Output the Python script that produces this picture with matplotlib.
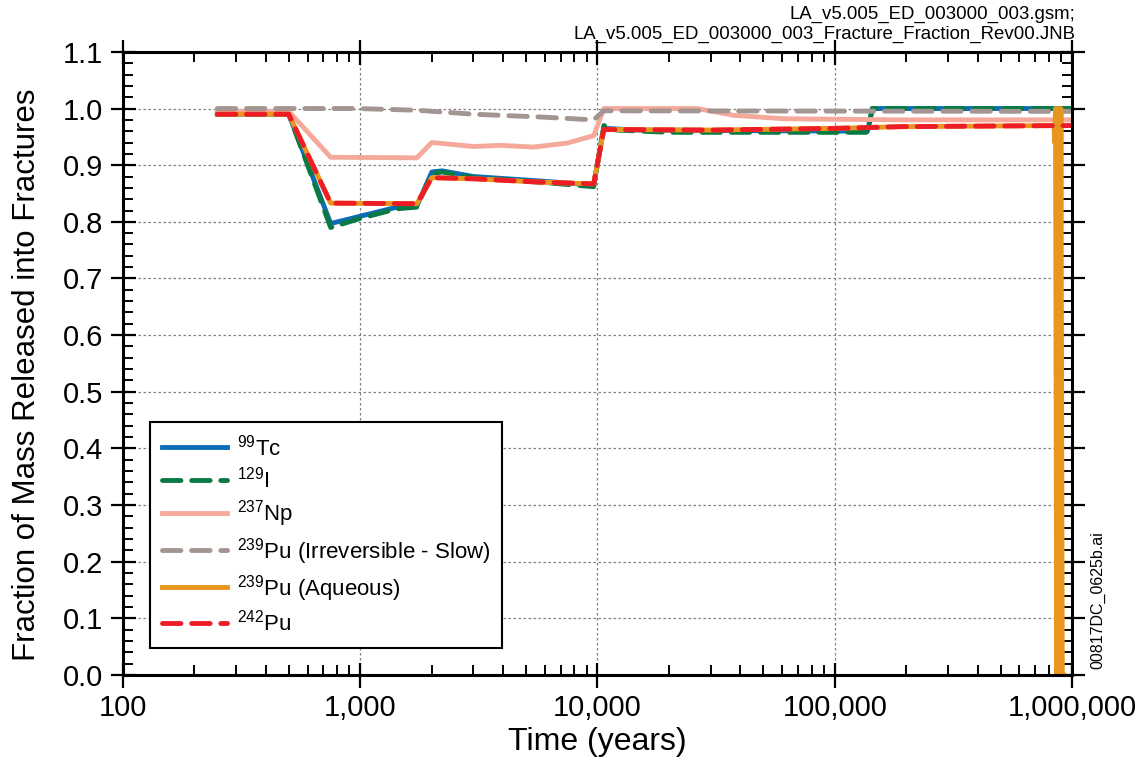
import numpy as np
import matplotlib
matplotlib.use('Agg')
import matplotlib.pyplot as plt
from matplotlib.ticker import FuncFormatter, LogLocator, MultipleLocator

plt.rcParams['font.family'] = ['Liberation Sans', 'DejaVu Sans']
plt.rcParams['mathtext.default'] = 'regular'

# values (time in years, fraction)
t_tc = [250, 500, 751, 1430, 1733, 2004, 2213, 3000, 5760, 9640, 10640, 15000, 137500, 144000, 1000000]
f_tc = [0.99, 0.99, 0.797, 0.826, 0.828, 0.888, 0.890, 0.880, 0.872, 0.865, 0.965, 0.962, 0.960, 1.0, 1.0]

t_i = [250, 500, 751, 1000, 1430, 1733, 2004, 2213, 3000, 5760, 9640, 10640, 12000, 20000, 137500, 144000, 1000000]
f_i = [0.99, 0.99, 0.790, 0.806, 0.823, 0.826, 0.885, 0.888, 0.878, 0.870, 0.862, 0.970, 0.962, 0.958, 0.958, 1.0, 1.0]

t_np = [250, 500, 751, 1733, 2004, 3000, 3900, 5370, 7450, 9640, 10640, 26300, 37500, 61000, 190000, 1000000]
f_np = [0.995, 0.995, 0.914, 0.913, 0.940, 0.933, 0.935, 0.932, 0.939, 0.952, 1.0, 1.0, 0.988, 0.982, 0.980, 0.980]

t_pu239s = [250, 968, 1733, 3000, 3900, 5760, 9640, 10640, 1000000]
f_pu239s = [1.0, 1.0, 0.997, 0.990, 0.988, 0.985, 0.980, 0.996, 0.995]

t_pu239a = [250, 500, 751, 1733, 2004, 3000, 5760, 9640, 10640, 30000, 100000, 190000, 840000,
            845000, 852000, 862000, 874000, 886000, 898000, 910000, 922000]
f_pu239a = [0.99, 0.99, 0.833, 0.832, 0.878, 0.876, 0.870, 0.867, 0.963, 0.962, 0.965, 0.968, 0.970,
            0.94, 1.0, 0.0, 1.0, 0.0, 1.0, 0.0, 0.0]

t_pu242 = [250, 500, 751, 1733, 2004, 3000, 5760, 9640, 10640, 30000, 100000, 190000, 1000000]
f_pu242 = [0.99, 0.99, 0.833, 0.832, 0.878, 0.876, 0.870, 0.867, 0.963, 0.962, 0.965, 0.968, 0.970]

fig = plt.figure(figsize=(11.38, 7.63), dpi=100)
ax = fig.add_axes([0.108, 0.1153, 0.834, 0.8167])

lw = 3.5
dash = (0, (3.8, 2.2))
ax.plot(t_tc, f_tc, color='#0b6db7', lw=lw, label=r'$^{99}$Tc')
ax.plot(t_i, f_i, color='#0a7a45', lw=lw, ls=dash, dash_capstyle='round', label=r'$^{129}$I')
ax.plot(t_np, f_np, color='#f5a99b', lw=lw, label=r'$^{237}$Np')
ax.plot(t_pu239s, f_pu239s, color='#a39591', lw=lw, ls=dash, dash_capstyle='round',
        label=r'$^{239}$Pu (Irreversible - Slow)')
ax.plot(t_pu239a, f_pu239a, color='#e8961e', lw=lw, label=r'$^{239}$Pu (Aqueous)')
ax.plot(t_pu242, f_pu242, color='#ee1c25', lw=lw, ls=dash, dash_capstyle='round', label=r'$^{242}$Pu')

ax.set_xscale('log')
ax.set_xlim(100, 1000000)
ax.set_ylim(0, 1.1)
ax.xaxis.set_major_formatter(FuncFormatter(lambda v, p: f'{int(round(v)):,}'))
ax.xaxis.set_minor_locator(LogLocator(base=10, subs=np.arange(2, 10)))
ax.xaxis.set_minor_formatter(FuncFormatter(lambda v, p: ''))
ax.yaxis.set_major_locator(MultipleLocator(0.1))
ax.yaxis.set_minor_locator(MultipleLocator(0.02))
ax.yaxis.set_major_formatter(FuncFormatter(lambda v, p: f'{v:.1f}'))

ax.grid(True, which='major', ls=(0, (2, 2)), color='#808080', lw=0.9)
ax.tick_params(which='major', direction='inout', length=18, width=1.6, labelsize=21,
               top=True, right=True, pad=5)
ax.tick_params(which='minor', direction='in', length=7, width=1.4, top=True, right=True)
for s in ax.spines.values():
    s.set_linewidth(2.2)

ax.set_xlabel('Time (years)', fontsize=23, labelpad=3)
ax.set_ylabel('Fraction of Mass Released into Fractures', fontsize=22.5)
ax.yaxis.set_label_coords(-0.0855, 0.482)

leg = ax.legend(loc='lower left', bbox_to_anchor=(0.0285, 0.0433), borderaxespad=0,
                fontsize=16, handlelength=2.9, handletextpad=0.45, fancybox=False,
                edgecolor='black', framealpha=1, borderpad=0.55, labelspacing=0.28)
leg.get_frame().set_linewidth(1.5)

fig.text(0.945, 0.992, 'LA_v5.005_ED_003000_003.gsm;\nLA_v5.005_ED_003000_003_Fracture_Fraction_Rev00.JNB',
         ha='right', va='top', fontsize=13.4, linespacing=1.2)
fig.text(0.965, 0.123, '00817DC_0625b.ai', rotation=90, ha='center', va='bottom', fontsize=11.5)

fig.savefig('out.png', dpi=100)
